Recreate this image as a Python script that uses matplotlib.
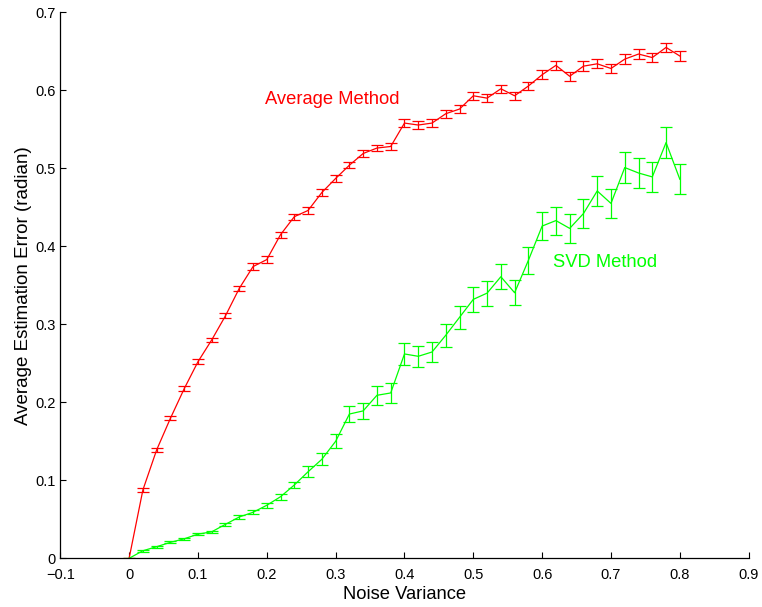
import matplotlib
matplotlib.use("Agg")
import matplotlib.pyplot as plt
import numpy as np

plt.rcParams['font.family'] = ['Liberation Sans', 'DejaVu Sans']

noise_variance = [0.00, 0.02, 0.04, 0.06, 0.08, 0.10, 0.12, 0.14, 0.16, 0.18,
                  0.20, 0.22, 0.24, 0.26, 0.28, 0.30, 0.32, 0.34, 0.36, 0.38,
                  0.40, 0.42, 0.44, 0.46, 0.48, 0.50, 0.52, 0.54, 0.56, 0.58,
                  0.60, 0.62, 0.64, 0.66, 0.68, 0.70, 0.72, 0.74, 0.76, 0.78, 0.80]

average_method = [0.000, 0.0876, 0.139, 0.1795, 0.2174, 0.252, 0.280, 0.311, 0.346, 0.374,
                  0.383, 0.415, 0.438, 0.446, 0.469, 0.487, 0.504, 0.519, 0.526, 0.528,
                  0.558, 0.5555, 0.558, 0.570, 0.576, 0.593, 0.590, 0.602, 0.593, 0.6055,
                  0.620, 0.632, 0.618, 0.631, 0.634, 0.628, 0.640, 0.6465, 0.642, 0.655, 0.644]

average_err = [0.001, 0.0025, 0.0025, 0.0025, 0.003, 0.003, 0.003, 0.003, 0.003, 0.004,
               0.004, 0.004, 0.004, 0.004, 0.004, 0.004, 0.004, 0.004, 0.004, 0.005,
               0.005, 0.005, 0.005, 0.005, 0.005, 0.005, 0.005, 0.005, 0.005, 0.005,
               0.006, 0.006, 0.006, 0.006, 0.006, 0.006, 0.006, 0.006, 0.006, 0.006, 0.006]

svd_method = [0.000, 0.0097, 0.0149, 0.0205, 0.025, 0.031, 0.034, 0.0436, 0.053, 0.059,
              0.068, 0.079, 0.094, 0.111, 0.127, 0.150, 0.185, 0.189, 0.209, 0.212,
              0.262, 0.259, 0.2645, 0.286, 0.309, 0.332, 0.340, 0.361, 0.3405, 0.382,
              0.426, 0.433, 0.423, 0.442, 0.471, 0.455, 0.501, 0.494, 0.489, 0.533, 0.486]

svd_err = [0.001, 0.0015, 0.0015, 0.0015, 0.0015, 0.0015, 0.0015, 0.002, 0.0025, 0.0025,
           0.003, 0.0037, 0.0043, 0.0068, 0.0075, 0.0092, 0.0105, 0.0105, 0.012, 0.0125,
           0.0137, 0.0135, 0.013, 0.0147, 0.015, 0.0156, 0.016, 0.016, 0.016, 0.017,
           0.018, 0.018, 0.0186, 0.0184, 0.0188, 0.0188, 0.0195, 0.019, 0.019, 0.0203, 0.0195]

x_tick_labels = ['\u22120.1', '0', '0.1', '0.2', '0.3', '0.4', '0.5', '0.6', '0.7', '0.8', '0.9']
y_tick_labels = ['0', '0.1', '0.2', '0.3', '0.4', '0.5', '0.6', '0.7']

fig = plt.figure(figsize=(7.62, 6.07), dpi=100)
ax = fig.add_axes([0.0791, 0.0802, 0.9034, 0.8995])

ax.errorbar(noise_variance, average_method, yerr=average_err, color=(1, 0, 0),
            lw=0.9, elinewidth=0.9, capsize=4.3, capthick=0.9)
ax.errorbar(noise_variance, svd_method, yerr=svd_err, color=(0, 1, 0),
            lw=0.9, elinewidth=0.9, capsize=4.3, capthick=0.9)

ax.text(0.197, 0.588, 'Average Method', color=(1, 0, 0), fontsize=13.2,
        ha='left', va='center')
ax.text(0.616, 0.379, 'SVD Method', color=(0, 1, 0), fontsize=13.2,
        ha='left', va='center')

ax.set_xlim(-0.1, 0.9)
ax.set_ylim(0, 0.7)
ax.set_xticks(np.arange(-0.1, 0.91, 0.1))
ax.set_xticklabels(x_tick_labels)
ax.set_yticks(np.arange(0, 0.71, 0.1))
ax.set_yticklabels(y_tick_labels)

for side in ['top', 'right']:
    ax.spines[side].set_visible(False)
ax.spines['left'].set_linewidth(0.9)
ax.spines['bottom'].set_linewidth(0.9)
ax.tick_params(direction='in', length=4.5, width=0.8, labelsize=10.5)
ax.tick_params(axis='x', pad=7)
ax.tick_params(axis='y', pad=3)

ax.set_xlabel('Noise Variance', fontsize=13.2, labelpad=2.5)
ax.set_ylabel('Average Estimation Error (radian)', fontsize=13.5, labelpad=3)

fig.savefig('out.png', dpi=100)
